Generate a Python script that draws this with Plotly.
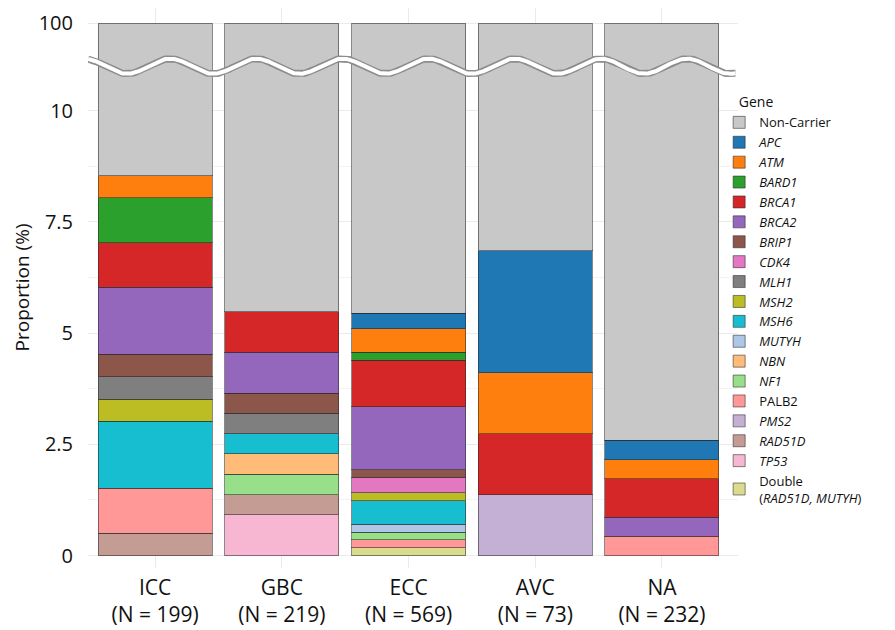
import numpy as np
import plotly.graph_objects as go

# ---------------- data ----------------
groups = ["ICC", "GBC", "ECC", "AVC", "NA"]
n_total = [199, 219, 569, 73, 232]

# carrier counts per gene (ICC, GBC, ECC, AVC, NA)
apc = [0, 0, 2, 2, 1]
atm = [1, 0, 3, 1, 1]
bard1 = [2, 0, 1, 0, 0]
brca1 = [2, 2, 6, 1, 2]
brca2 = [3, 2, 8, 0, 1]
brip1 = [1, 1, 1, 0, 0]
cdk4 = [0, 0, 2, 0, 0]
mlh1 = [1, 1, 0, 0, 0]
msh2 = [1, 0, 1, 0, 0]
msh6 = [3, 1, 3, 0, 0]
mutyh = [0, 0, 1, 0, 0]
nbn = [0, 1, 0, 0, 0]
nf1 = [0, 1, 1, 0, 0]
palb2 = [2, 0, 1, 0, 1]
pms2 = [0, 0, 0, 1, 0]
rad51d = [1, 1, 0, 0, 0]
tp53 = [0, 2, 0, 0, 0]
double = [0, 0, 1, 0, 0]

y_tick_vals = [0, 2.5, 5, 7.5, 10, 100]
y_tick_text = ["0", "2.5", "5", "7.5", "10", "100"]

# stacking order bottom -> top
genes = [
    ("Double<br>(<i>RAD51D, MUTYH</i>)", double, "#DBDB8D"),
    ("<i>TP53</i>", tp53, "#F7B6D2"),
    ("<i>RAD51D</i>", rad51d, "#C49C94"),
    ("<i>PMS2</i>", pms2, "#C5B0D5"),
    ("PALB2", palb2, "#FF9896"),
    ("<i>NF1</i>", nf1, "#98DF8A"),
    ("<i>NBN</i>", nbn, "#FFBB78"),
    ("<i>MUTYH</i>", mutyh, "#AEC7E8"),
    ("<i>MSH6</i>", msh6, "#17BECF"),
    ("<i>MSH2</i>", msh2, "#BCBD22"),
    ("<i>MLH1</i>", mlh1, "#7F7F7F"),
    ("<i>CDK4</i>", cdk4, "#E377C2"),
    ("<i>BRIP1</i>", brip1, "#8C564B"),
    ("<i>BRCA2</i>", brca2, "#9467BD"),
    ("<i>BRCA1</i>", brca1, "#D62728"),
    ("<i>BARD1</i>", bard1, "#2CA02C"),
    ("<i>ATM</i>", atm, "#FF7F0E"),
    ("<i>APC</i>", apc, "#1F77B4"),
]

# ---------------- broken axis transform ----------------
BREAK = 10.0
TOP_POS = 11.965  # axis position of 100 %


def to_axis(v):
    v = np.asarray(v, dtype=float)
    return np.where(v <= BREAK, v, BREAK + (v - BREAK) / (100 - BREAK) * (TOP_POS - BREAK))


xpos = np.arange(len(groups))
n_arr = np.array(n_total, dtype=float)
line_style = dict(color="rgba(40,40,40,0.55)", width=1)

fig = go.Figure()
carrier_total = np.zeros(len(groups))
for name, counts, color in genes:
    pct = np.array(counts) / n_arr * 100
    carrier_total += pct
    fig.add_trace(go.Bar(
        x=xpos, y=[p if p > 0 else None for p in pct], name=name,
        marker=dict(color=color, line=line_style), width=0.9,
    ))

non_carrier = to_axis(100) - to_axis(carrier_total)
fig.add_trace(go.Bar(
    x=xpos, y=non_carrier, name="Non-Carrier",
    marker=dict(color="#C8C8C8", line=line_style), width=0.9,
))

# ---------------- wavy break marker ----------------
x_min, x_max = -0.53, 4.6
wx = np.linspace(-0.53, 4.58, 600)
period = 0.68
wy = 11.0 + 0.17 * np.cos(2 * np.pi * (wx - 0.118) / period)
fig.add_trace(go.Scatter(x=wx, y=wy, mode="lines", line=dict(color="#8C8C8C", width=7),
                         showlegend=False, hoverinfo="skip"))
fig.add_trace(go.Scatter(x=wx, y=wy, mode="lines", line=dict(color="white", width=4),
                         showlegend=False, hoverinfo="skip"))

x_labels = [f"{g}<br>(N = {n})" for g, n in zip(groups, n_total)]
font_family = "Open Sans, Noto Sans, sans-serif"

fig.update_layout(
    width=887, height=622,
    barmode="stack",
    plot_bgcolor="white", paper_bgcolor="white",
    margin=dict(l=80, r=157, t=0, b=62),
    font=dict(family=font_family, color="#111111"),
    xaxis=dict(
        range=[x_min, x_max], tickvals=list(xpos), ticktext=x_labels,
        showgrid=True, gridcolor="#EBEBEB", gridwidth=1, zeroline=False,
        showline=False, ticks="", tickfont=dict(size=21, color="#111111"),
        ticklabelstandoff=5, automargin=False,
    ),
    yaxis=dict(
        range=[-0.281, 12.309], tickmode="array",
        tickvals=list(to_axis(y_tick_vals)), ticktext=y_tick_text,
        showgrid=True, gridcolor="#EBEBEB", gridwidth=1, zeroline=False,
        showline=False, ticks="", tickfont=dict(size=20, color="#111111"),
        ticklabelstandoff=14,
        minor=dict(tickmode="array", tickvals=[1.25, 3.75, 6.25, 8.75],
                   showgrid=True, gridcolor="#F3F3F3", gridwidth=1),
        automargin=False,
    ),
    annotations=[dict(
        text="Proportion (%)", textangle=-90, xref="paper", yref="paper",
        x=-0.1015, y=0.501, xanchor="center", yanchor="middle", showarrow=False,
        font=dict(size=19, color="#111111"),
    )],
    legend=dict(
        title=dict(text="\u2003\u00a0Gene", font=dict(size=14)),
        traceorder="reversed",
        x=0.971, xanchor="left", y=0.855, yanchor="top",
        font=dict(size=13, color="#111111"),
        bgcolor="rgba(0,0,0,0)", tracegroupgap=0,
    ),
    bargap=0.1,
)

fig.write_html("out.html")
